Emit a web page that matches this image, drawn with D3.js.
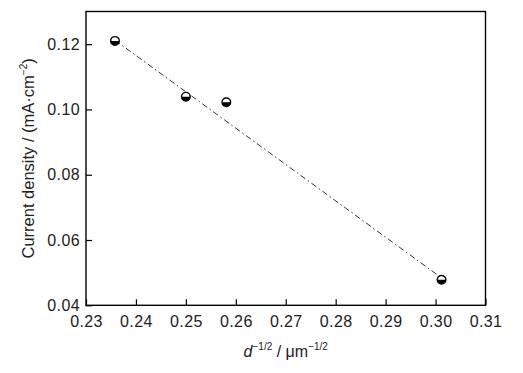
<!DOCTYPE html>
<html><head><meta charset="utf-8">
<script src="https://cdn.jsdelivr.net/npm/d3@7"></script>
<style>body{margin:0;background:#fff;} svg{display:block;} text{font-family:"Liberation Sans",Arial,sans-serif;}</style>
</head><body>
<svg id="c" width="523" height="373"></svg>
<script>
const xValues = [0.2358, 0.2500, 0.2581, 0.3012];
const yValues = [0.1210, 0.1039, 0.1022, 0.0478];
const fitX = [0.2358, 0.3012];
const fitY = [0.1212, 0.0484];
const xTicks = [0.23, 0.24, 0.25, 0.26, 0.27, 0.28, 0.29, 0.30, 0.31];
const yTicks = [0.04, 0.06, 0.08, 0.10, 0.12];

const svg = d3.select("#c");
const L = 86, R = 485.5, T = 11.5, B = 305.3;
const x = d3.scaleLinear().domain([0.23, 0.31]).range([L, R]);
const y = d3.scaleLinear().domain([0.04, 0.13]).range([B, T]);

svg.append("rect").attr("x", L).attr("y", T).attr("width", R - L).attr("height", B - T)
  .attr("fill", "none").attr("stroke", "#000").attr("stroke-width", 1.4);

const xAxis = svg.append("g").attr("transform", `translate(0,${B})`)
  .call(d3.axisBottom(x).tickValues(xTicks).tickFormat(d3.format(".2f")).tickSizeInner(-6).tickSizeOuter(0).tickPadding(10));
const yAxis = svg.append("g").attr("transform", `translate(${L},0)`)
  .call(d3.axisLeft(y).tickValues(yTicks).tickFormat(d3.format(".2f")).tickSizeInner(-6).tickSizeOuter(0).tickPadding(6));
[xAxis, yAxis].forEach(g => {
  g.select(".domain").remove();
  g.selectAll(".tick line").attr("stroke", "#000").attr("stroke-width", 1.2);
  g.selectAll(".tick text").attr("font-size", 16).attr("fill", "#222")
    .attr("font-family", "'Liberation Sans',Arial,sans-serif").attr("letter-spacing", 0.4);
});
xAxis.selectAll(".tick text").attr("dy", "0.72em");

svg.append("line")
  .attr("x1", x(fitX[0])).attr("y1", y(fitY[0]))
  .attr("x2", x(fitX[1])).attr("y2", y(fitY[1]))
  .attr("stroke", "#333").attr("stroke-width", 1).attr("stroke-dasharray", "6,3,1.5,3");

const r = 4.3;
const pts = xValues.map((v, i) => [x(v), y(yValues[i])]);
const m = svg.append("g").selectAll("g").data(pts).join("g")
  .attr("transform", d => `translate(${d[0]},${d[1]})`);
m.append("circle").attr("r", r).attr("fill", "#fff").attr("stroke", "#000").attr("stroke-width", 1.4);
m.append("path").attr("d", `M${-r},0 A${r},${r} 0 0 0 ${r},0 Z`).attr("fill", "#000");

svg.append("text").attr("transform", `translate(34,${(T + B) / 2}) rotate(-90)`)
  .attr("text-anchor", "middle").attr("font-size", 16.5).attr("fill", "#222")
  .html('Current density / (mA·cm<tspan dy="-7" font-size="10">−2</tspan><tspan dy="7">)</tspan>');

svg.append("text").attr("x", (L + R) / 2).attr("y", 357)
  .attr("text-anchor", "middle").attr("font-size", 16).attr("fill", "#222")
  .html('<tspan font-style="italic">d</tspan><tspan dy="-7" font-size="10">−1/2</tspan><tspan dy="7"> / μm</tspan><tspan dy="-7" font-size="10">−1/2</tspan>');
</script>
</body></html>
